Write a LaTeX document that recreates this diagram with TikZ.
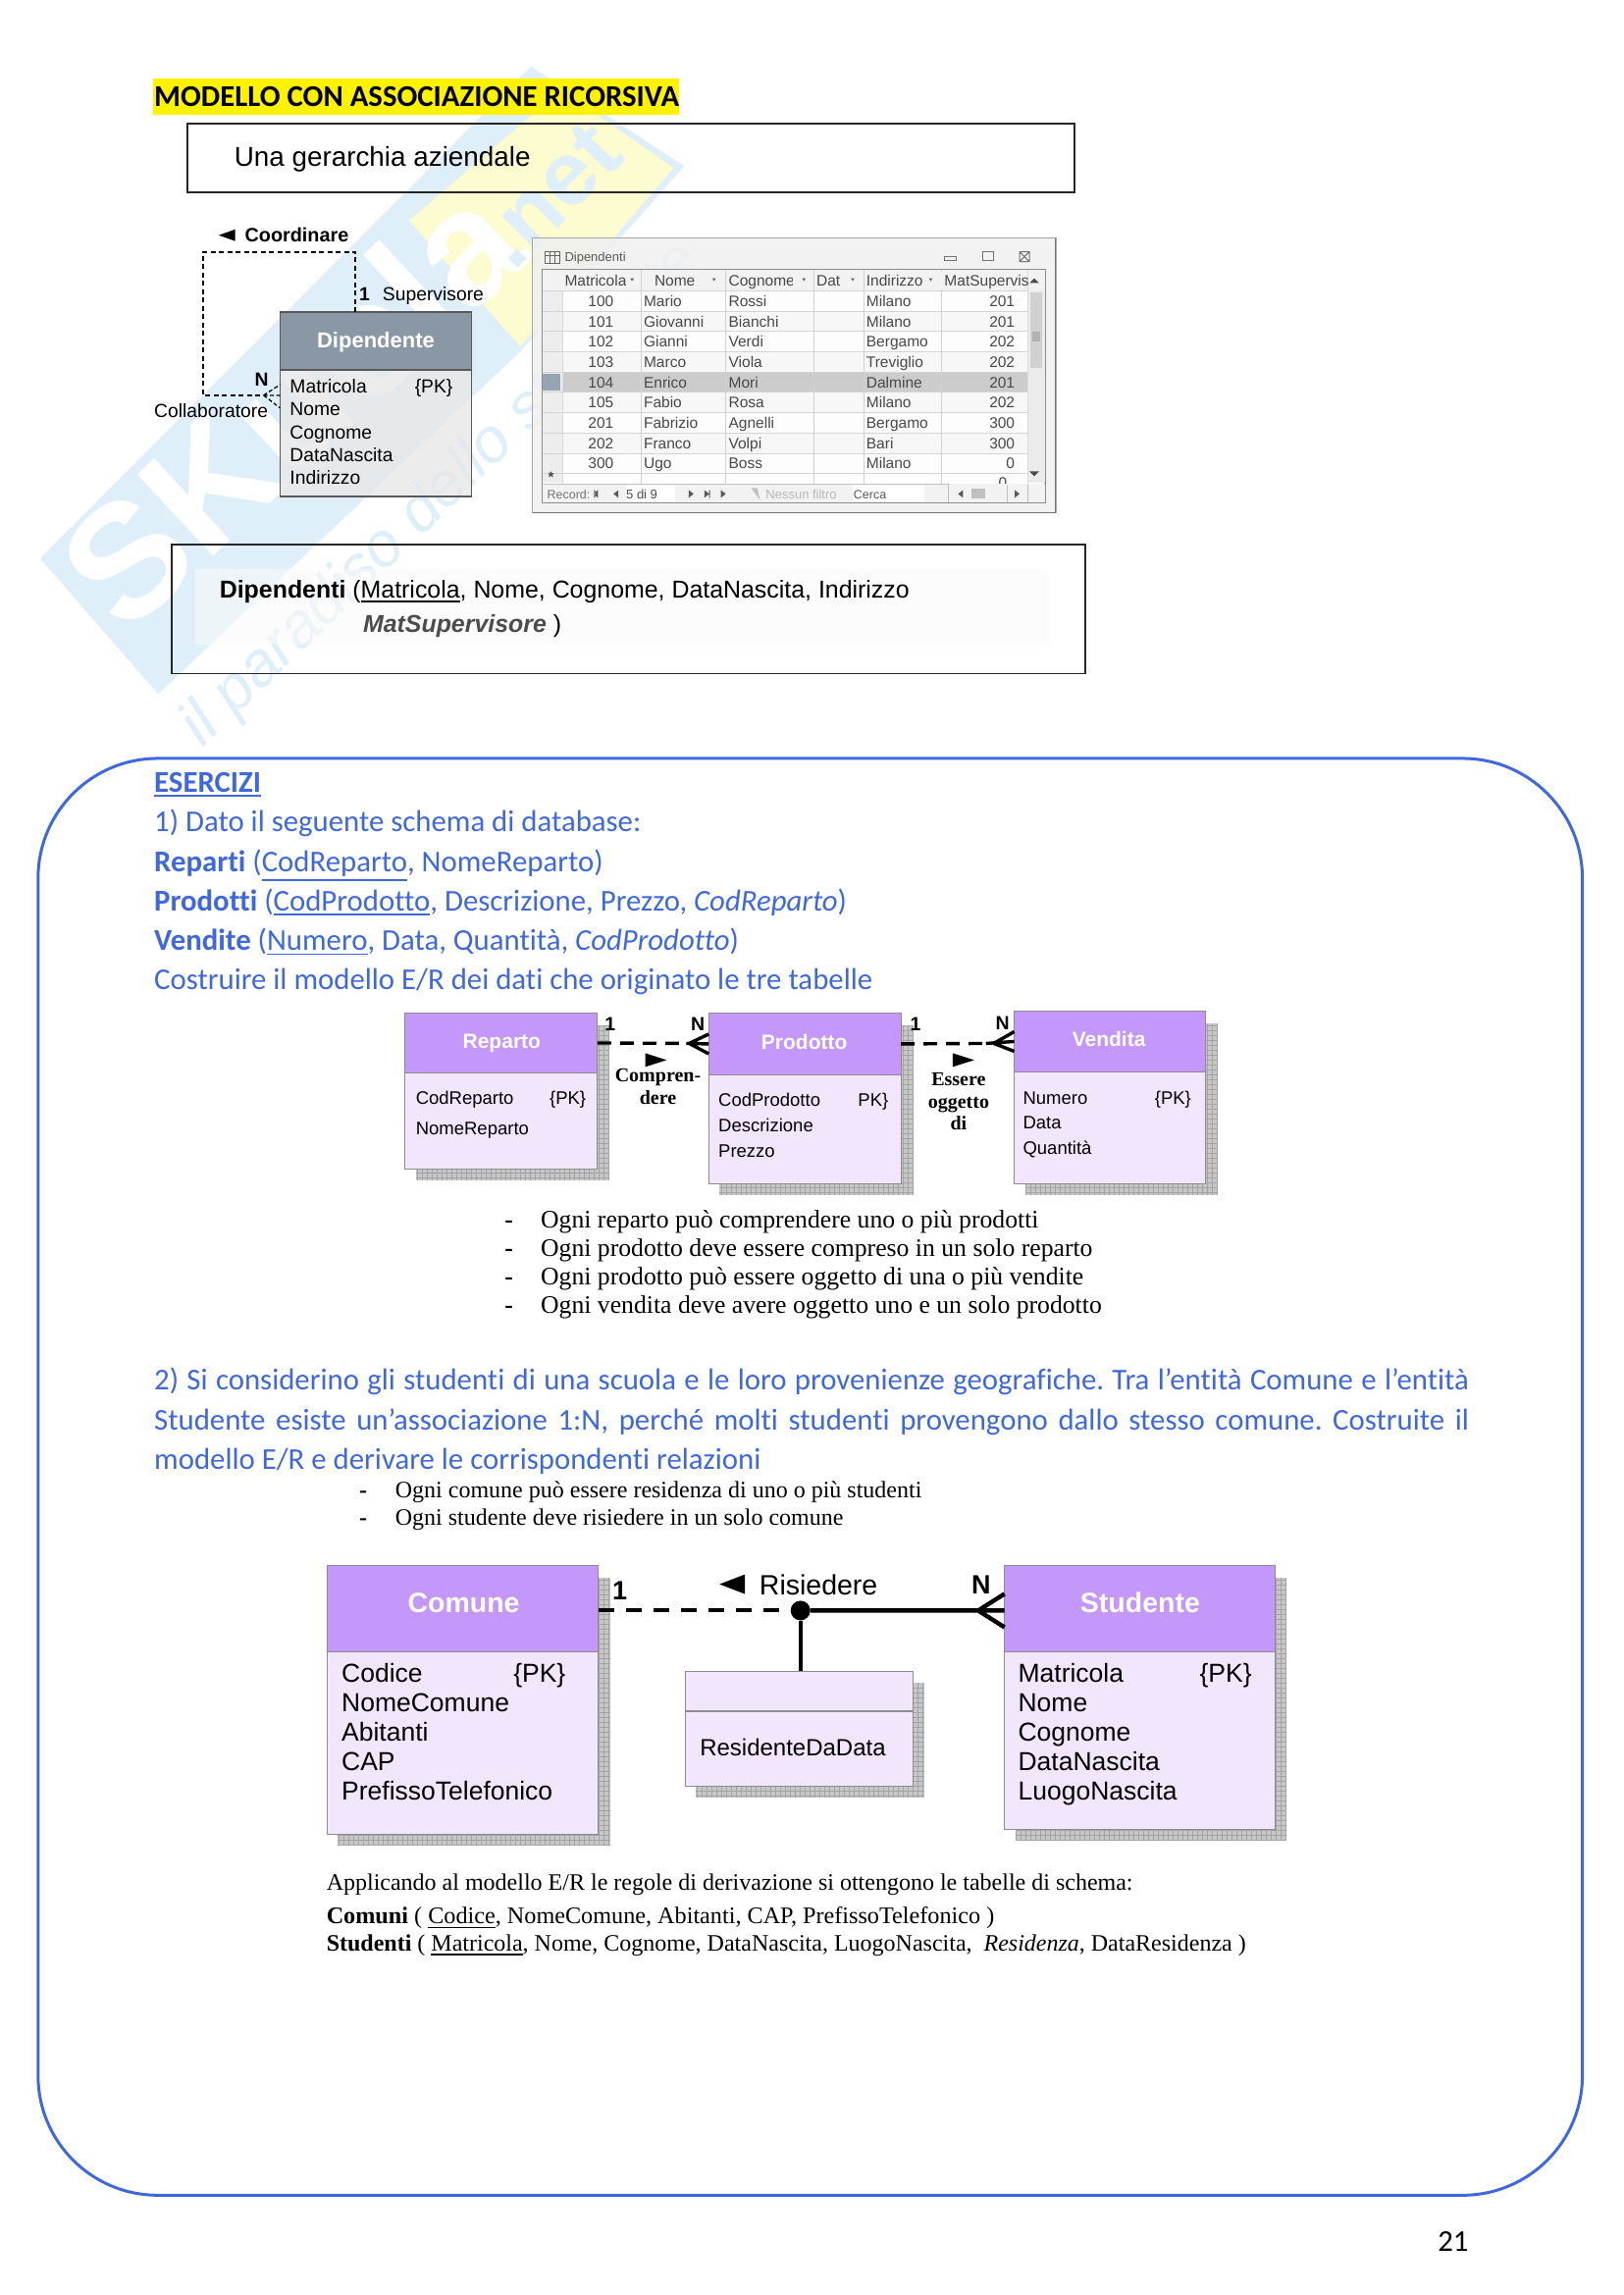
\documentclass[tikz,border=0pt]{standalone}
\usepackage{fontspec}
\usetikzlibrary{calc}
\setmainfont{Carlito}[Ligatures=NoCommon]
\newfontfamily\arialf{Liberation Sans}
\newfontfamily\timesf{Liberation Serif}
\newcommand\fsz[1]{\fontsize{#1}{#1}\selectfont}
\newcommand\ulx[1]{\leavevmode\vtop{\hbox{#1}\kern 2.5pt\hrule height 1.8pt}}
\definecolor{blu}{RGB}{64,104,222}
\definecolor{hdv}{RGB}{196,151,250}
\definecolor{bdv}{RGB}{242,230,253}
\definecolor{wmb}{RGB}{222,239,249}
\definecolor{wmy}{RGB}{253,251,208}
\definecolor{wint}{RGB}{72,72,72}
\definecolor{selc}{RGB}{150,165,180}
\frenchspacing
\tikzset{
 x=0.9948pt,y=-0.9948pt,
 tw/.style={anchor=base west,inner sep=0pt,outer sep=0pt},
 te/.style={anchor=base east,inner sep=0pt,outer sep=0pt},
 tc/.style={anchor=base,inner sep=0pt,outer sep=0pt},
 bluet/.style={tw,text=blu,font=\fsz{30.8}},
 sans/.style={tw,font=\arialf\fsz{#1}},
 serif/.style={tw,font=\timesf\fsz{#1}},
 ettl/.style={anchor=center,inner sep=0pt,text=white,font=\arialf\bfseries\fsz{#1}},
 cell/.style={text=wint,font=\arialf\fsz{15.5}},
 frameb/.style={draw=black!85,line width=2.2pt},
 lk/.style={line width=3.4pt,line cap=butt},
 lkd/.style={lk,dash pattern=on 14pt off 9pt},
}
% shadow+body+header: name, x1, y1, ydiv, x2, y2, line colour, head fill, body fill
\newcommand\entity[9]{%
 \fill[black!22] ({#2+11},{#3+12}) rectangle ({#5+12},{#6+11.5});
 \draw[black!36,line width=.5pt,step=5pt] ({#2+11},{#3+12}) grid ({#5+12},{#6+11.5});
 \path[fill=#9,draw=#7,line width=1.2pt] (#2,#3) rectangle (#5,#6);
 \path[fill=#8,draw=#7,line width=1.2pt] (#2,#3) rectangle (#5,#4);
 \coordinate (#1hdW) at (#2,{(#3+#4)/2});
 \coordinate (#1hdE) at (#5,{(#3+#4)/2});
 \coordinate (#1T) at ({(#2+#5)/2},#3);
}
\begin{document}
\begin{tikzpicture}
\useasboundingbox (0,0) rectangle (1662.65,2351.23);
\fill[white] (0,0) rectangle (1662.65,2351.23);

%% watermark
\fill[wmb] (41,572) -- (544,68) -- (701,170) -- (533,360) -- (162,711) -- cycle;
\fill[wmy] (419,226) -- (575,92) -- (690,172) -- (533,355) -- cycle;
\node[anchor=center,inner sep=0pt,rotate=43,text=white,font=\arialf\bfseries\fsz{165}] (wm1) at (298,415) {SKuola};
\node[anchor=center,inner sep=0pt,rotate=45,text=wmb,font=\arialf\bfseries\fsz{92}] (wm2) at (563,200) {.net};
\node[anchor=center,inner sep=0pt,rotate=44,text=wmb,font=\arialf\itshape\fsz{64}] (wm3) at (452,507) {il paradiso dello studente};

%% ------ first picture
\fill[yellow] (157,80) rectangle (696,118);
\node[tw,font=\bfseries\fsz{30.8}] (title) at (158,109) {MODELLO CON ASSOCIAZIONE RICORSIVA};
\node[sans=27.85] (gerarchia) at (240,170) {Una gerarchia aziendale};
\draw[frameb] (192,127) rectangle (1101,197);

%% Dipendente
\path[fill=black!9,fill opacity=.8,draw=black!65,line width=1.8pt] (287,320) rectangle (483,509);
\path[fill={rgb,255:red,128;green,143;blue,158},fill opacity=.9,draw=black!65,line width=1.4pt] (287,320) rectangle (483,379);
\coordinate (dipT) at (364,320);
\coordinate (dipW) at (287,405);
\node[ettl=22] (dip) at (385,351) {Dipendente};
\foreach \yy/\tt/\nn in {402.5/Matricola/a,426/Nome/b,450/Cognome/c,473/DataNascita/d,496/Indirizzo/e}
  \node[sans=19.3] (dip\nn) at (297,\yy) {\tt};
\node[sans=19.3] (dippk) at (425,402.5) {\{PK\}};
\coordinate (lp1) at (208,258);
\coordinate (lp2) at (208,405);
\coordinate (lp3) at (364,258);
\coordinate (cf) at (270,405);
\draw[line width=1.7pt,dash pattern=on 5pt off 3.5pt] (dipT) -- (lp3) -- (lp1) -- (lp2) -- (cf);
\draw[line width=1.3pt,dash pattern=on 4pt off 2.5pt] (cf) -- (dipW) (cf) -- (287,394) (cf) -- (287,418);
\fill (224,241) -- (241,235) -- (241,247) -- cycle;
\node[sans=19.3,font=\arialf\fsz{19.8}] (coord) at (251,248) {\textbf{Coordinare}};
\node[sans=19.3] (one) at (368,308) {\textbf{1}};
\node[sans=19.3] (sup) at (392,308) {Supervisore};
\node[sans=19.3] (nn) at (261,396) {\textbf{N}};
\node[sans=19.3] (coll) at (158,428) {Collaboratore};

%% window
\begin{scope}[xshift=1.5pt]
\path[fill=black!6,fill opacity=.85,draw=black!35,line width=1.5pt] (544,244) rectangle (1080,525);
\draw[black!55,line width=1.2pt] (1080,244) -- (1080,525) -- (544,525);
\path[fill=white,fill opacity=.85,draw=black!45,line width=1.3pt] (554,276) rectangle (1069,515);
\fill[black!5] (554,276) rectangle (1069,298);
\fill[black!7] (554,298) rectangle (575,495);
\foreach \i in {1,3,5,7} \fill[black!3] (575,{298+20.8*\i}) rectangle (1051,{298+20.8*(\i+1)});
\fill[black!20] (575,{298+20.8*4}) rectangle (1051,{298+20.8*5});
\fill[selc] (554,{300+20.8*4}) rectangle (572,{296+20.8*5});
\fill[black!8] (1051,298) rectangle (1069,495);
\fill[black!18] (1054,300) rectangle (1066,{298+20.8*4-4});
\fill[black!30] (1056,340) rectangle (1064,350);
\foreach \yy in {298,318.8,339.6,360.4,381.2,402,422.8,443.6,464.4,485.2}
  \draw[black!17,line width=.9pt] (554,\yy) -- (1051,\yy);
\foreach \xx in {655,742,832,883,963}
  \draw[black!18,line width=.8pt] (\xx,276) -- (\xx,496);
\draw[black!14,line width=.8pt] (575,298) -- (575,496);
\draw[black!14,line width=.8pt] (1051,276) -- (1051,496);
% title bar
\draw[black!60,line width=1pt] (557,258) rectangle (572,270) (557,262) -- (572,262) (562,258) -- (562,270) (567,258) -- (567,270);
\node[tw,text=black!65,font=\arialf\fsz{13}] (wtitle) at (577,268) {Dipendenti};
\draw[black!55,line width=1pt] (966,263) rectangle (978,267);
\draw[black!55,line width=1pt] (1005,258) rectangle (1016,267);
\draw[black!55,line width=1pt] (1043,258) -- (1053,268) (1053,258) -- (1043,268) (1043,258) rectangle (1053,268);
% header cells
\begin{scope}
\clip (554,276) rectangle (1051,298);
\foreach \xx/\tt/\nn in {577/Matricola/a,669/Nome/b,745/Cognome/c,835/Data/d,886/Indirizzo/e,966/MatSupervisore/f}
 \node[tw,cell] (wh\nn) at (\xx,293) {\tt};
\end{scope}
\fill[black!5] (640,278) rectangle (655,297);
\fill[black!5] (811,278) rectangle (832,297);
\fill[black!5] (859,278) rectangle (883,297);
\fill[black!5] (950,278) rectangle (963,297);
\foreach \xx/\nn in {646/a,730/b,822/c,872/d,952/e} \fill[black!60] ({\xx-2},285) -- ({\xx+2},285) -- (\xx,288) -- cycle;
% rows
\foreach \i/\m/\n/\c/\o/\s in {0/100/Mario/Rossi/Milano/201,1/101/Giovanni/Bianchi/Milano/201,2/102/Gianni/Verdi/Bergamo/202,3/103/Marco/Viola/Treviglio/202,4/104/Enrico/Mori/Dalmine/201,5/105/Fabio/Rosa/Milano/202,6/201/Fabrizio/Agnelli/Bergamo/300,7/202/Franco/Volpi/Bari/300,8/300/Ugo/Boss/Milano/0}{
 \node[te,cell] (r\i a) at (627,{314+20.8*\i}) {\m};
 \node[tw,cell] (r\i b) at (658,{314+20.8*\i}) {\n};
 \node[tw,cell] (r\i c) at (745,{314+20.8*\i}) {\c};
 \node[tw,cell] (r\i d) at (886,{314+20.8*\i}) {\o};
 \node[te,cell] (r\i e) at (1038,{314+20.8*\i}) {\s};
}
\node[tw,cell,font=\arialf\bfseries\fsz{15}] (star) at (560,494) {*};
\begin{scope}
\clip (1000,485) rectangle (1051,496);
\node[te,cell] (r9e) at (1030,500) {0};
\end{scope}
% scroll arrows
\fill[black!70] (1053,290) -- (1063,290) -- (1058,285) -- cycle;
\fill[black!70] (1053,483) -- (1063,483) -- (1058,488) -- cycle;
% nav bar
\fill[black!5] (554,496) rectangle (1069,515);
\fill[white] (640,497) rectangle (690,514);
\fill[white] (872,497) rectangle (945,514);
\draw[black!25,line width=1pt] (554,496) -- (972,496);
\node[tw,text=black!55,font=\arialf\fsz{12.5}] (rec) at (559,511) {Record:};
\node[tw,text=black!70,font=\arialf\fsz{13}] (ndi) at (640,511) {5 di 9};
\node[tw,text=black!28,font=\arialf\fsz{13}] (nf) at (783,511) {Nessun filtro};
\node[tw,text=black!65,font=\arialf\fsz{12.5}] (cerca) at (873,511) {Cerca};
\fill[black!65] (611,502) -- (611,510) -- (606,506) -- cycle (607,502) rectangle (608,510);
\fill[black!65] (632,502) -- (632,510) -- (627,506) -- cycle;
\fill[black!65] (704,502) -- (704,510) -- (709,506) -- cycle;
\fill[black!65] (720,502) -- (720,510) -- (725,506) -- cycle (725,502) rectangle (726,510);
\fill[black!65] (737,502) -- (737,510) -- (742,506) -- cycle;
\fill[black!25] (768,500) -- (777,512) -- (774,500) -- cycle;
\fill[black!65] (985,502) -- (985,510) -- (980,506) -- cycle;
\fill[black!25] (994,501) rectangle (1008,511);
\fill[black!65] (1038,502) -- (1038,510) -- (1043,506) -- cycle;
\draw[black!25,line width=1pt] (970,496) -- (970,515) (1030,497) -- (1030,515) (1051,497) -- (1051,515);
\end{scope}

%% schema box
\fill[black!1.8,fill opacity=.6] (200,583) rectangle (1075,660);
\draw[frameb,line width=1.8pt] (176,558) rectangle (1112,690);
\node[sans=24.9] (dipt) at (225,612.5) {\textbf{Dipendenti} (\ulx{Matricola}, Nome, Cognome, DataNascita, Indirizzo};
\node[sans=24.9] (dipt2) at (372,648) {\textcolor{black!70}{\textbf{\itshape MatSupervisore}} )};

%% big rounded box
\draw[blu,line width=3pt,rounded corners=122pt] (39,777) rectangle (1621,2249);
\node[bluet] (e0) at (158,812) {\ulx{\textbf{ESERCIZI}}};
\node[bluet] (e1) at (158,852) {1) Dato il seguente schema di database:};
\node[bluet] (e2) at (158,893) {\textbf{Reparti} (\ulx{CodReparto}, NomeReparto)};
\node[bluet] (e3) at (158,933) {\textbf{Prodotti} (\ulx{CodProdotto}, Descrizione, Prezzo, \textit{CodReparto})};
\node[bluet] (e4) at (158,974) {\textbf{Vendite} (\ulx{Numero}, Data, Quantità, \textit{CodProdotto})};
\node[bluet] (e5) at (158,1014) {Costruire il modello E/R dei dati che originato le tre tabelle};

%% diagram 1
\entity{rep}{415}{1038}{1099}{612}{1198}{black!45}{hdv}{bdv}
\entity{prd}{726}{1038}{1101}{923}{1213}{black!45}{hdv}{bdv}
\entity{ven}{1039}{1036}{1098}{1235}{1213}{black!45}{hdv}{bdv}
\node[ettl=21] (t1) at (514,1069) {Reparto};
\node[ettl=21] (t2) at (824,1067.5) {Prodotto};
\node[ettl=21] (t3) at (1136,1065) {Vendita};
\node[sans=18.5] (a1) at (426,1131) {CodReparto};
\node[sans=18.5] (a1p) at (563,1131) {\{PK\}};
\node[sans=18.5] (a2) at (426,1163) {NomeReparto};
\node[sans=18.5] (b1) at (736,1133) {CodProdotto};
\node[sans=18.5] (b1p) at (879,1133) {PK\}};
\node[sans=18.5] (b2) at (736,1160) {Descrizione};
\node[sans=18.5] (b3) at (736,1186) {Prezzo};
\node[sans=18.5] (c1) at (1048,1131) {Numero};
\node[sans=18.5] (c1p) at (1183,1131) {\{PK\}};
\node[sans=18.5] (c2) at (1048,1157) {Data};
\node[sans=18.5] (c3) at (1048,1183) {Quantità};
\coordinate (l1a) at (703,1069);
\coordinate (l1t) at (706,1069);
\coordinate (l2a) at (1010,1069);
\coordinate (l2t) at (1018,1069);
\draw[lkd] (rephdE) -- (l1a);
\draw[lk] (l1a) -- (prdhdW) (l1t) -- ([yshift=10pt]prdhdW) (l1t) -- ([yshift=-10pt]prdhdW);
\draw[lkd] (prdhdE) -- (l2a);
\draw[lk] (l2a) -- (venhdW) (l2t) -- ([yshift=10pt]venhdW) (l2t) -- ([yshift=-10pt]venhdW);
\fill (661,1079) -- (683,1086) -- (661,1093) -- cycle;
\fill (976,1079) -- (998,1086) -- (976,1093) -- cycle;
\node[tc,font=\timesf\bfseries\fsz{20}] (cm1) at (674,1108) {Compren-};
\node[tc,font=\timesf\bfseries\fsz{20}] (cm2) at (674,1131) {dere};
\node[tc,font=\timesf\bfseries\fsz{20}] (es1) at (982,1112) {Essere};
\node[tc,font=\timesf\bfseries\fsz{20}] (es2) at (982,1135) {oggetto};
\node[tc,font=\timesf\bfseries\fsz{20}] (es3) at (982,1158) {di};
\node[tc,font=\arialf\bfseries\fsz{19.5}] (n1) at (625,1056) {1};
\node[tc,font=\arialf\bfseries\fsz{19.5}] (n2) at (715,1056) {N};
\node[tc,font=\arialf\bfseries\fsz{19.5}] (n3) at (938,1056) {1};
\node[tc,font=\arialf\bfseries\fsz{19.5}] (n4) at (1027,1055) {N};
\foreach \yy/\tt/\nn in {1258.5/Ogni reparto può comprendere uno o più prodotti/a,1287.5/Ogni prodotto deve essere compreso in un solo reparto/b,1316.5/Ogni prodotto può essere oggetto di una o più vendite/c,1345/Ogni vendita deve avere oggetto uno e un solo prodotto/d}{
 \node[serif=25.7] (bd\nn) at (517,\yy) {\textbf{-}};
 \node[serif=25.7] (bl\nn) at (554,\yy) {\tt};
}

%% paragraph 2
\node[bluet] (p1) at (158,1424) {\makebox[1340pt][s]{2) Si considerino gli studenti di una scuola e le loro provenienze geografiche. Tra l’entità Comune e l’entità}};
\node[bluet] (p2) at (158,1465) {\makebox[1340pt][s]{Studente esiste un’associazione 1:N, perché molti studenti provengono dallo stesso comune. Costruite il}};
\node[bluet] (p3) at (158,1505) {modello E/R e derivare le corrispondenti relazioni};
\node[serif=24] (bd2a) at (368,1534) {\textbf{-}};
\node[serif=24] (bl2a) at (405,1534) {Ogni comune può essere residenza di uno o più studenti};
\node[serif=24] (bd2b) at (368,1563) {\textbf{-}};
\node[serif=24] (bl2b) at (405,1563) {Ogni studente deve risiedere in un solo comune};

%% diagram 2
\entity{com}{335}{1604}{1692}{613}{1879}{black!45}{hdv}{bdv}
\entity{stu}{1029}{1604}{1692}{1306}{1874}{black!45}{hdv}{bdv}
\entity{res}{702}{1712}{1753}{935}{1830}{black!45}{bdv}{bdv}
\node[ettl=28.5] (t4) at (475,1642) {Comune};
\node[ettl=28.5] (t5) at (1168,1642) {Studente};
\foreach \yy/\tt/\nn in {1723/Codice/a,1753.5/NomeComune/b,1784/Abitanti/c,1814/CAP/d,1844/PrefissoTelefonico/e}
 \node[sans=26.5] (cm\nn) at (350,\yy) {\tt};
\node[sans=26.5] (cmp) at (526,1723) {\{PK\}};
\foreach \yy/\tt/\nn in {1723/Matricola/a,1753.5/Nome/b,1784/Cognome/c,1814/DataNascita/d,1844/LuogoNascita/e}
 \node[sans=26.5] (st\nn) at (1043,\yy) {\tt};
\node[sans=26.5] (stp) at (1229,1723) {\{PK\}};
\node[sans=24] (resa) at (717,1799) {ResidenteDaData};
\node[circle,fill=black,inner sep=0pt,minimum size=20pt] (dot) at (820,1650) {};
\coordinate (l3t) at (1002,1650);
\draw[lkd,line width=4pt,dash pattern=on 16pt off 12pt] (comhdE |- dot) -- (dot);
\draw[line width=4.4pt] (dot) -- (stuhdW |- dot) (l3t) -- ([yshift=-17pt]stuhdW |- dot) (l3t) -- ([yshift=17pt]stuhdW |- dot);
\draw[line width=4.4pt] (dot) -- (dot |- resT);
\fill (737,1623) -- (763,1613) -- (763,1633) -- cycle;
\node[sans=28.5] (ris) at (778,1634) {Risiedere};
\node[tc,font=\arialf\bfseries\fsz{27}] (n5) at (635,1639) {1};
\node[tc,font=\arialf\bfseries\fsz{27}] (n6) at (1005,1633) {N};

%% derivation
\node[serif=24] (d1) at (334.5,1937) {Applicando al modello E/R le regole di derivazione si ottengono le tabelle di schema:};
\node[serif=24.2] (d2) at (334.5,1971) {\textbf{Comuni} ( \ulx{Codice}, NomeComune, Abitanti, CAP, PrefissoTelefonico )};
\node[serif=24] (d3) at (334.5,1999) {\textbf{Studenti} ( \ulx{Matricola}, Nome, Cognome, DataNascita, LuogoNascita,\hspace{6pt} \textit{Residenza}, DataResidenza )};

\node[tw,font=\fsz{30.8}] (pg) at (1473,2306) {21};
\end{tikzpicture}
\end{document}
